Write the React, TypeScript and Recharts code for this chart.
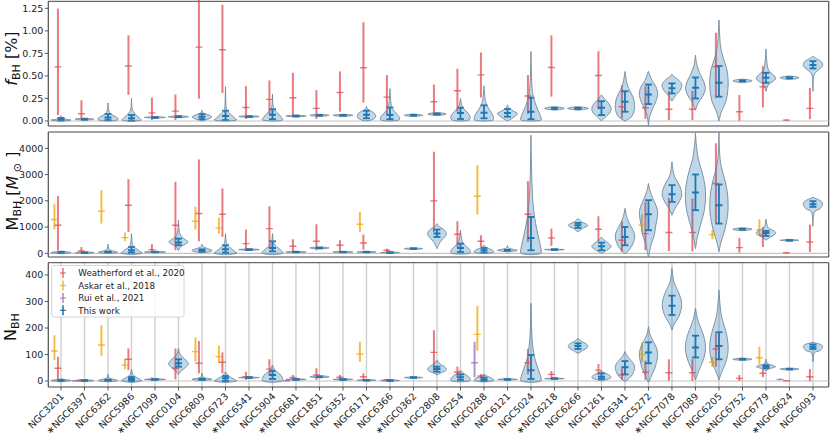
import React from "react";
import {
  ComposedChart,
  Scatter,
  ErrorBar,
  XAxis,
  YAxis,
  CartesianGrid,
  ReferenceLine,
  ReferenceArea,
} from "recharts";

type Est = [number, number, number] | null;
type Profile = [number, number][];
type Named = [string, number, number, number];

const CLUSTERS = [
  "NGC3201", "∗NGC6397", "NGC6362", "NGC5986", "∗NGC7099", "NGC0104", "NGC6809",
  "NGC6723", "∗NGC6541", "NGC5904", "∗NGC6681", "NGC1851", "NGC6352", "NGC6171",
  "NGC6366", "∗NGC0362", "NGC2808", "NGC6254", "NGC0288", "NGC6121", "NGC5024",
  "∗NGC6218", "NGC6266", "NGC1261", "NGC6341", "NGC5272", "∗NGC7078", "NGC7089",
  "NGC6205", "∗NGC6752", "NGC6779", "∗NGC6624", "NGC6093",
];

// violin outlines: [value, half width in category units], bottom to top
const F_VIOLINS: Profile[] = [
  [[0, 0], [0.005, 0.3], [0.012, 0.42], [0.02, 0.2], [0.04, 0.02], [0.06, 0]],
  [[0.01, 0], [0.015, 0.3], [0.02, 0.4], [0.025, 0.3], [0.03, 0]],
  [[0, 0.1], [0.01, 0.38], [0.03, 0.42], [0.05, 0.3], [0.08, 0.12], [0.12, 0.03], [0.2, 0]],
  [[0, 0.2], [0.01, 0.4], [0.03, 0.35], [0.06, 0.22], [0.1, 0.08], [0.15, 0.02], [0.25, 0]],
  [[0.03, 0], [0.036, 0.3], [0.04, 0.45], [0.044, 0.3], [0.05, 0]],
  [[0.035, 0], [0.042, 0.3], [0.047, 0.43], [0.052, 0.3], [0.06, 0]],
  [[0, 0], [0.02, 0.25], [0.045, 0.42], [0.07, 0.25], [0.09, 0.05], [0.12, 0]],
  [[0, 0.15], [0.01, 0.47], [0.03, 0.4], [0.06, 0.28], [0.1, 0.12], [0.15, 0.03], [0.38, 0]],
  [[0.04, 0], [0.045, 0.3], [0.05, 0.43], [0.055, 0.3], [0.06, 0]],
  [[0, 0.1], [0.01, 0.42], [0.04, 0.38], [0.08, 0.25], [0.12, 0.1], [0.18, 0.02], [0.3, 0]],
  [[0.045, 0], [0.05, 0.3], [0.055, 0.43], [0.06, 0.3], [0.065, 0]],
  [[0.05, 0], [0.057, 0.3], [0.063, 0.41], [0.069, 0.3], [0.075, 0]],
  [[0.05, 0], [0.057, 0.3], [0.063, 0.42], [0.069, 0.3], [0.075, 0]],
  [[0, 0], [0.01, 0.2], [0.04, 0.38], [0.08, 0.35], [0.11, 0.2], [0.13, 0.05], [0.16, 0]],
  [[0, 0.1], [0.01, 0.38], [0.04, 0.4], [0.08, 0.28], [0.13, 0.12], [0.2, 0.04], [0.36, 0]],
  [[0.05, 0], [0.057, 0.3], [0.063, 0.39], [0.069, 0.3], [0.078, 0]],
  [[0.06, 0], [0.07, 0.3], [0.077, 0.39], [0.085, 0.3], [0.095, 0]],
  [[0, 0.05], [0.01, 0.35], [0.04, 0.41], [0.08, 0.35], [0.12, 0.2], [0.17, 0.06], [0.25, 0]],
  [[0, 0.1], [0.01, 0.38], [0.05, 0.4], [0.1, 0.3], [0.16, 0.15], [0.24, 0.05], [0.39, 0]],
  [[0, 0], [0.03, 0.2], [0.08, 0.42], [0.11, 0.25], [0.14, 0.08], [0.18, 0]],
  [[0, 0.1], [0.01, 0.42], [0.06, 0.4], [0.12, 0.3], [0.2, 0.18], [0.3, 0.08], [0.45, 0.03], [0.77, 0]],
  [[0.12, 0], [0.13, 0.3], [0.14, 0.42], [0.15, 0.3], [0.16, 0]],
  [[0.12, 0], [0.13, 0.3], [0.14, 0.44], [0.15, 0.3], [0.16, 0]],
  [[0, 0], [0.04, 0.15], [0.09, 0.35], [0.14, 0.41], [0.19, 0.32], [0.24, 0.15], [0.29, 0]],
  [[0, 0], [0.04, 0.25], [0.1, 0.38], [0.18, 0.41], [0.26, 0.35], [0.34, 0.2], [0.42, 0.08], [0.55, 0]],
  [[-0.05, 0], [0.05, 0.05], [0.15, 0.2], [0.22, 0.32], [0.3, 0.39], [0.38, 0.32], [0.45, 0.15], [0.55, 0]],
  [[0.22, 0], [0.28, 0.15], [0.34, 0.35], [0.4, 0.42], [0.45, 0.3], [0.5, 0.05], [0.52, 0]],
  [[0.12, 0], [0.2, 0.12], [0.28, 0.32], [0.36, 0.42], [0.44, 0.35], [0.52, 0.2], [0.62, 0.06], [0.73, 0]],
  [[0, 0], [0.1, 0.1], [0.22, 0.3], [0.35, 0.38], [0.46, 0.39], [0.58, 0.33], [0.7, 0.18], [0.85, 0.06], [1.12, 0]],
  [[0.425, 0], [0.435, 0.3], [0.446, 0.41], [0.455, 0.3], [0.465, 0]],
  [[0.33, 0], [0.4, 0.1], [0.44, 0.3], [0.47, 0.41], [0.51, 0.32], [0.56, 0.12], [0.65, 0.04], [0.8, 0]],
  [[0.46, 0], [0.47, 0.3], [0.48, 0.4], [0.49, 0.3], [0.5, 0]],
  [[0.33, 0], [0.5, 0.03], [0.56, 0.2], [0.6, 0.38], [0.627, 0.41], [0.66, 0.35], [0.7, 0.1], [0.72, 0]],
];

const F_THIS_WORK: Est[] = [
  [0.005, 0.02, 0.035], [0.015, 0.02, 0.025], [0.01, 0.04, 0.077], [0.003, 0.03, 0.066],
  [0.035, 0.04, 0.045], [0.043, 0.048, 0.053], [0.02, 0.048, 0.077], [0.01, 0.055, 0.114],
  [0.044, 0.048, 0.052], [0.02, 0.07, 0.13], [0.05, 0.055, 0.06], [0.058, 0.063, 0.068],
  [0.058, 0.063, 0.068], [0.03, 0.07, 0.114], [0.02, 0.066, 0.15], [0.058, 0.063, 0.068],
  [0.07, 0.077, 0.084], [0.022, 0.088, 0.147], [0.03, 0.092, 0.174], [0.048, 0.09, 0.133],
  [0.02, 0.103, 0.258], [0.135, 0.14, 0.145], [0.135, 0.14, 0.145], [0.066, 0.147, 0.22],
  [0.103, 0.213, 0.33], [0.188, 0.295, 0.405], [0.306, 0.362, 0.417], [0.25, 0.369, 0.483],
  [0.27, 0.424, 0.61], [0.441, 0.446, 0.451], [0.424, 0.479, 0.535], [0.475, 0.48, 0.485],
  [0.583, 0.62, 0.664],
];

const F_WEATHERFORD: Est[] = [
  [0.066, 0.6, 1.247], [0.03, 0.08, 0.23], null, [0.29, 0.61, 0.95],
  [0.01, 0.09, 0.26], [0.01, 0.11, 0.295], [0.247, 0.82, 1.45], [0.31, 0.79, 1.29],
  [0.022, 0.15, 0.387], [0.077, 0.24, 0.45], [0.066, 0.258, 0.534], [0.022, 0.14, 0.343],
  [0.103, 0.317, 0.55], [0.203, 0.59, 1.095], [0.066, 0.265, 0.51], null,
  [0.066, 0.213, 0.405], [0.103, 0.335, 0.58], [0.26, 0.512, 0.76], null,
  [0.077, 0.277, 0.51], [0.27, 0.594, 0.95], null, [0.13, 0.505, 0.774],
  [0.03, 0.158, 0.398], [0.022, 0.147, 0.387], [0.01, 0.13, 0.335], [0.01, 0.13, 0.335],
  [0.26, 0.6, 0.98], [0.003, 0.103, 0.288], [0.15, 0.38, 0.608], [0, 0.01, 0.02],
  [0.02, 0.14, 0.368],
];

const M_VIOLINS: Profile[] = [
  [[-20, 0], [10, 0.3], [30, 0.42], [50, 0.3], [80, 0]],
  [[-10, 0], [10, 0.3], [25, 0.4], [40, 0.3], [60, 0]],
  [[0, 0], [20, 0.35], [45, 0.4], [80, 0.25], [150, 0.05], [350, 0]],
  [[-50, 0.05], [0, 0.44], [60, 0.38], [150, 0.25], [250, 0.1], [400, 0.03], [750, 0]],
  [[25, 0], [40, 0.3], [50, 0.45], [60, 0.3], [75, 0]],
  [[100, 0], [250, 0.1], [350, 0.3], [430, 0.41], [520, 0.3], [650, 0.12], [850, 0.03], [1260, 0]],
  [[20, 0], [60, 0.3], [110, 0.43], [160, 0.3], [250, 0.05], [350, 0]],
  [[-50, 0.1], [0, 0.48], [80, 0.38], [180, 0.25], [300, 0.1], [450, 0.03], [750, 0]],
  [[110, 0], [125, 0.3], [140, 0.44], [155, 0.3], [170, 0]],
  [[-50, 0.1], [0, 0.44], [100, 0.38], [200, 0.25], [320, 0.1], [480, 0.03], [750, 0]],
  [[30, 0], [40, 0.3], [50, 0.43], [60, 0.3], [70, 0]],
  [[170, 0], [185, 0.3], [205, 0.41], [225, 0.3], [240, 0]],
  [[30, 0], [40, 0.3], [50, 0.42], [60, 0.3], [70, 0]],
  [[30, 0], [40, 0.3], [50, 0.4], [60, 0.3], [70, 0]],
  [[10, 0], [20, 0.3], [27, 0.4], [35, 0.3], [45, 0]],
  [[150, 0], [165, 0.3], [178, 0.39], [190, 0.3], [205, 0]],
  [[178, 0], [450, 0.15], [620, 0.33], [760, 0.4], [900, 0.3], [1000, 0.12], [1130, 0]],
  [[-30, 0.1], [0, 0.38], [100, 0.41], [200, 0.32], [330, 0.18], [500, 0.06], [880, 0]],
  [[0, 0.1], [30, 0.38], [80, 0.41], [150, 0.3], [220, 0.1], [310, 0]],
  [[50, 0], [90, 0.3], [115, 0.42], [150, 0.25], [200, 0.05], [300, 0]],
  [[-50, 0.1], [0, 0.42], [200, 0.42], [500, 0.35], [900, 0.25], [1400, 0.15], [2000, 0.08], [3000, 0.03], [4500, 0]],
  [[120, 0], [130, 0.3], [140, 0.42], [150, 0.3], [160, 0]],
  [[815, 0], [950, 0.2], [1030, 0.38], [1070, 0.41], [1120, 0.35], [1200, 0.15], [1324, 0]],
  [[0, 0], [100, 0.2], [200, 0.36], [270, 0.41], [380, 0.3], [500, 0.12], [624, 0]],
  [[-20, 0], [100, 0.15], [300, 0.3], [500, 0.39], [700, 0.41], [900, 0.33], [1150, 0.18], [1400, 0.07], [1710, 0]],
  [[-140, 0], [0, 0.04], [300, 0.1], [700, 0.25], [1000, 0.3], [1300, 0.36], [1550, 0.39], [1800, 0.33], [2100, 0.18], [2400, 0.06], [2660, 0]],
  [[1450, 0], [1700, 0.12], [1950, 0.3], [2200, 0.41], [2450, 0.38], [2700, 0.25], [3000, 0.08], [3490, 0]],
  [[178, 0], [600, 0.08], [1100, 0.22], [1600, 0.37], [2100, 0.43], [2600, 0.4], [3100, 0.28], [3600, 0.12], [4100, 0.04], [4600, 0]],
  [[50, 0], [400, 0.08], [900, 0.25], [1400, 0.36], [1800, 0.39], [2300, 0.36], [2800, 0.25], [3300, 0.1], [3800, 0.03], [4600, 0]],
  [[860, 0], [890, 0.3], [917, 0.41], [945, 0.3], [975, 0]],
  [[500, 0], [600, 0.15], [700, 0.35], [780, 0.41], [860, 0.33], [950, 0.12], [1100, 0.04], [1300, 0]],
  [[470, 0], [485, 0.3], [497, 0.4], [510, 0.3], [525, 0]],
  [[1030, 0], [1550, 0.05], [1700, 0.3], [1870, 0.41], [2000, 0.32], [2134, 0]],
];

const M_THIS_WORK: Est[] = [
  [20, 40, 60], [10, 20, 30], [35, 50, 65], [30, 120, 240], [40, 50, 60], [306, 407, 560],
  [50, 115, 150], [27, 153, 306], [125, 140, 155], [76, 204, 458], [40, 50, 60], [190, 204, 218],
  [40, 50, 60], [40, 50, 60], [17, 27, 37], [165, 178, 191], [624, 752, 904], [50, 204, 369],
  [27, 115, 204], [100, 115, 130], [115, 586, 1387], [125, 140, 155], [968, 1070, 1158],
  [115, 267, 407], [306, 624, 1006], [879, 1490, 2025], [1961, 2254, 2598], [1643, 2318, 3005],
  [1133, 1834, 2623], [900, 917, 934], [663, 777, 853], [482, 497, 512], [1770, 1872, 1986],
];

const M_WEATHERFORD: Est[] = [
  [115, 1070, 2190], [20, 90, 240], null, [815, 1834, 2827], [27, 140, 344], [115, 1070, 2725],
  [458, 1515, 3578], [624, 1490, 2470], [115, 369, 904], [178, 942, 1795], [76, 267, 535],
  [115, 458, 1108], [76, 306, 497], [140, 395, 713], [27, 115, 178], null, [815, 1999, 3871],
  [242, 726, 1222], [242, 458, 688], null, [433, 1490, 2750], [280, 586, 942], null,
  [458, 917, 1413], [50, 497, 1222], [115, 751, 1961], [89, 790, 2114], [76, 790, 2088],
  [1150, 2660, 4190], [27, 216, 586], [242, 688, 1006], [0, 20, 40], [50, 433, 1095],
];

const M_ASKAR: Named[] = [
  ["NGC3201", 917, 1286, 1872], ["NGC6362", 1133, 1604, 2407], ["NGC5986", 471, 599, 790],
  ["NGC6809", 904, 1222, 1770], ["NGC6723", 751, 968, 1363], ["NGC6171", 815, 1108, 1579],
  ["NGC0288", 1477, 2177, 3362], ["NGC5272", 790, 1070, 1490], ["NGC6205", 535, 713, 879],
  ["NGC6779", 688, 904, 1299],
];

const N_VIOLINS: Profile[] = [
  [[-3, 0], [0, 0.3], [2, 0.42], [4, 0.3], [8, 0]],
  [[-2, 0], [0, 0.3], [1.5, 0.4], [3, 0.3], [5, 0]],
  [[-3, 0], [0, 0.35], [3, 0.4], [6, 0.25], [12, 0.05], [25, 0]],
  [[-5, 0.05], [0, 0.42], [5, 0.38], [12, 0.25], [20, 0.1], [30, 0.03], [45, 0]],
  [[3, 0], [5, 0.3], [6, 0.45], [7, 0.3], [9, 0]],
  [[25, 0], [40, 0.15], [55, 0.35], [65, 0.42], [78, 0.33], [92, 0.15], [105, 0.05], [123, 0]],
  [[2, 0], [4, 0.3], [6, 0.43], [9, 0.3], [14, 0.06], [30, 0]],
  [[-5, 0.1], [0, 0.47], [6, 0.38], [13, 0.25], [22, 0.1], [35, 0]],
  [[10, 0], [12, 0.3], [13, 0.44], [14, 0.3], [16, 0]],
  [[-5, 0.1], [0, 0.42], [10, 0.42], [20, 0.38], [30, 0.25], [42, 0.1], [60, 0]],
  [[3, 0], [5, 0.3], [6, 0.43], [7, 0.3], [9, 0]],
  [[12, 0], [14, 0.3], [16, 0.41], [18, 0.3], [20, 0]],
  [[3, 0], [5, 0.3], [6, 0.42], [7, 0.3], [9, 0]],
  [[1, 0], [2, 0.3], [3, 0.4], [4, 0.3], [6, 0]],
  [[0, 0], [1, 0.3], [2, 0.4], [3, 0.3], [5, 0]],
  [[10, 0], [12, 0.3], [13, 0.39], [14, 0.3], [16, 0]],
  [[23, 0], [30, 0.15], [38, 0.35], [45, 0.4], [55, 0.3], [65, 0.12], [79, 0]],
  [[-3, 0.1], [0, 0.38], [8, 0.41], [18, 0.32], [28, 0.15], [41, 0]],
  [[-3, 0.1], [0, 0.38], [5, 0.41], [12, 0.3], [20, 0.1], [26, 0]],
  [[3, 0], [5, 0.3], [6, 0.42], [7, 0.3], [10, 0]],
  [[-5, 0.1], [0, 0.42], [15, 0.42], [35, 0.35], [60, 0.25], [90, 0.15], [130, 0.08], [190, 0.03], [293, 0]],
  [[7, 0], [8, 0.3], [9, 0.42], [10, 0.3], [11, 0]],
  [[104, 0], [115, 0.2], [125, 0.38], [132, 0.41], [140, 0.35], [150, 0.15], [161, 0]],
  [[0, 0], [5, 0.2], [10, 0.36], [16, 0.41], [24, 0.3], [31, 0.12], [38, 0]],
  [[-2, 0], [10, 0.18], [25, 0.32], [40, 0.39], [55, 0.41], [70, 0.33], [85, 0.18], [98, 0.07], [111, 0]],
  [[-5, 0], [5, 0.06], [25, 0.15], [50, 0.28], [75, 0.35], [100, 0.39], [125, 0.34], [150, 0.2], [175, 0.07], [205, 0]],
  [[192, 0], [215, 0.1], [245, 0.3], [280, 0.41], [310, 0.38], [340, 0.25], [375, 0.08], [425, 0]],
  [[4, 0], [25, 0.08], [55, 0.22], [90, 0.37], [125, 0.43], [160, 0.38], [195, 0.25], [230, 0.1], [274, 0]],
  [[4, 0], [30, 0.1], [65, 0.27], [100, 0.37], [130, 0.39], [165, 0.35], [200, 0.25], [240, 0.12], [285, 0.05], [343, 0]],
  [[78, 0], [80, 0.3], [82, 0.41], [84, 0.3], [87, 0]],
  [[38, 0], [45, 0.1], [50, 0.3], [54, 0.41], [58, 0.33], [63, 0.12], [70, 0.04], [82, 0]],
  [[41, 0], [43, 0.3], [45, 0.4], [47, 0.3], [49, 0]],
  [[73, 0], [105, 0.05], [115, 0.3], [129, 0.41], [138, 0.32], [146, 0]],
];

const N_THIS_WORK: Est[] = [
  [0, 2, 4], [0, 1.5, 3], [1, 3, 5], [0, 8, 15], [5, 6, 7], [54, 67, 82], [4, 6, 9], [0, 10, 19],
  [12, 13, 14], [8, 23, 38], [5, 6, 7], [15, 16, 17], [5, 6, 7], [2, 3, 4], [1, 2, 3], [12, 13, 14],
  [35, 45, 54], [4, 14, 25], [0, 6, 13], [5, 6, 7], [8, 41, 98], [8, 9, 10], [121, 132, 142],
  [8, 16, 29], [25, 52, 75], [67, 108, 146], [249, 284, 322], [89, 126, 171], [82, 132, 184],
  [81, 82, 83], [48, 54, 60], [44, 45, 46], [121, 129, 138],
];

const N_WEATHERFORD: Est[] = [
  [4, 48, 92], [1, 3, 6], null, [41, 82, 123], [0, 6, 14], [6, 48, 123], [29, 67, 151],
  [29, 71, 108], [4, 16, 35], [20, 45, 82], [4, 13, 23], [4, 23, 48], [6, 14, 23], [4, 16, 29],
  [2, 5, 8], null, [35, 108, 192], [13, 33, 54], [10, 19, 26], null, [25, 69, 121],
  [13, 25, 38], null, [23, 41, 64], [4, 23, 48], [4, 33, 77], [1, 31, 82], [0, 31, 82],
  [54, 121, 180], [0, 10, 23], [14, 29, 44], [0, 1, 2], [0, 16, 45],
];

const N_ASKAR: Named[] = [
  ["NGC3201", 79, 113, 173], ["NGC6362", 95, 136, 211], ["NGC5986", 45, 60, 83],
  ["NGC6809", 73, 111, 165], ["NGC6723", 67, 92, 133], ["NGC6171", 73, 102, 148],
  ["NGC0288", 114, 176, 283], ["NGC5272", 71, 101, 146], ["NGC6205", 54, 71, 92],
  ["NGC6779", 63, 88, 129],
];

const N_RUI: Named[] = [
  ["∗NGC6397", 0, 1, 3], ["∗NGC6681", 0, 1, 3], ["NGC0288", 14, 69, 148], ["∗NGC6624", 3, 6, 9],
];

const F_TICKS = [0, 0.25, 0.5, 0.75, 1.0, 1.25];
const M_TICKS = [0, 1000, 2000, 3000, 4000];
const N_TICKS = [0, 100, 200, 300, 400];

const SOURCES = [
  { name: "Weatherford et al., 2020", color: "#e0474c", offset: -0.13 },
  { name: "Askar et al., 2018", color: "#eea500", offset: -0.28 },
  { name: "Rui et al., 2021", color: "#9467bd", offset: -0.4 },
  { name: "This work", color: "#1f77b4", offset: 0 },
];

const W = 831;
const FONT = "DejaVu Sans";
const X_DOMAIN: [number, number] = [-0.54, 32.67];
const X_TICKS = CLUSTERS.map((_, i) => i);

const fromNamed = (list: Named[]): Est[] =>
  CLUSTERS.map((c) => {
    const hit = list.find((r) => r[0] === c);
    return hit ? [hit[1], hit[2], hit[3]] : null;
  });

const toPoints = (values: Est[], offset: number) =>
  values.flatMap((e, i) =>
    e ? [{ x: i + offset, y: e[1], err: [e[1] - e[0], e[2] - e[1]] }] : []
  );

const outline = (profiles: Profile[]) =>
  profiles.flatMap((p, i) => [
    ...p.map(([v, w]) => ({ x: i - w, y: v })),
    ...[...p].reverse().map(([v, w]) => ({ x: i + w, y: v })),
  ]);

const side = (pts: { x: number; y: number }[]) => {
  let d = "";
  for (let i = 0; i < pts.length - 1; i++) {
    const p0 = pts[Math.max(i - 1, 0)];
    const p1 = pts[i];
    const p2 = pts[i + 1];
    const p3 = pts[Math.min(i + 2, pts.length - 1)];
    const c1x = p1.x + (p2.x - p0.x) / 6;
    const c1y = p1.y + (p2.y - p0.y) / 6;
    const c2x = p2.x - (p3.x - p1.x) / 6;
    const c2y = p2.y - (p3.y - p1.y) / 6;
    d += ` C${c1x},${c1y} ${c2x},${c2y} ${p2.x},${p2.y}`;
  }
  return d;
};

const violinLine = (profiles: Profile[]) => (props: any) => {
  const pts = props.points || [];
  let k = 0;
  return (
    <g>
      {profiles.map((p, i) => {
        const n = p.length;
        const left = pts.slice(k, k + n);
        const right = pts.slice(k + n, k + 2 * n);
        k += 2 * n;
        if (left.length < n || right.length < n) return null;
        const d =
          `M${left[0].x},${left[0].y}` + side(left) +
          ` L${right[0].x},${right[0].y}` + side(right) + "Z";
        return (
          <path key={i} d={d} fill="#1f77b4" fillOpacity={0.29} stroke="#76889a"
            strokeOpacity={0.9} strokeWidth={1} />
        );
      })}
    </g>
  );
};

const noShape = () => <g />;

const tickMark = (color: string, half: number, sw: number, op: number) => (props: any) => (
  <line x1={props.cx - half} x2={props.cx + half} y1={props.cy} y2={props.cy}
    stroke={color} strokeWidth={sw} strokeOpacity={op} />
);

const NameTick = (props: any) => {
  const { x, y, payload } = props;
  const ax = x + 3.5;
  const ay = y + 4.5;
  return (
    <text x={ax} y={ay} textAnchor="end" fontSize={9.6} fontFamily={FONT} fill="#222"
      transform={`rotate(-45 ${ax} ${ay})`}>
      {CLUSTERS[payload.value]}
    </text>
  );
};

type Series = { values: Est[]; source: number };

type PanelProps = {
  top: number;
  height: number;
  marginTop: number;
  xAxisHeight: number;
  domain: [number, number];
  ticks: number[];
  fmt: (v: number) => string;
  violins: Profile[];
  series: Series[];
  names: boolean;
};

const Panel = ({ top, height, marginTop, xAxisHeight, domain, ticks, fmt, violins, series, names }: PanelProps) => (
  <div style={{ position: "absolute", left: 0, top, width: W, height }}>
    <ComposedChart width={W} height={height}
      margin={{ top: marginTop, right: 2.3, bottom: 0, left: 0.3 }}>
      <CartesianGrid vertical horizontal={false} stroke="#cfcfcf" strokeWidth={1.4} />
      <XAxis type="number" dataKey="x" domain={X_DOMAIN} ticks={X_TICKS} interval={0}
        allowDataOverflow height={xAxisHeight} axisLine={false} tickSize={3.5}
        tickLine={{ stroke: "#333", strokeWidth: 0.8 }}
        tick={names ? <NameTick /> : false} />
      <YAxis type="number" dataKey="y" domain={domain} ticks={ticks} interval={0}
        allowDataOverflow width={48} axisLine={false} tickSize={3.5} tickMargin={1.5}
        tickLine={{ stroke: "#333", strokeWidth: 0.8 }}
        tick={{ fontSize: 9.5, fill: "#222", fontFamily: FONT }} tickFormatter={fmt} />
      <ReferenceLine y={0} stroke="#c4c4c4" strokeWidth={1.2} />
      <Scatter data={outline(violins)} line={violinLine(violins)} shape={noShape}
        isAnimationActive={false} legendType="none" />
      {series.map((s, k) => {
        const src = SOURCES[s.source];
        const blue = s.source === 3;
        const op = blue ? 1 : 0.72;
        return (
          <Scatter key={k} data={toPoints(s.values, src.offset)}
            shape={tickMark(src.color, 3.5, blue ? 2 : 1.4, op)}
            isAnimationActive={false} legendType="none">
            <ErrorBar dataKey="err" direction="y" width={blue ? 3.5 : 0}
              stroke={src.color} strokeWidth={blue ? 1.8 : 2} strokeOpacity={op}
              isAnimationActive={false} />
          </Scatter>
        );
      })}
      <ReferenceArea x1={X_DOMAIN[0]} x2={X_DOMAIN[1]} y1={domain[0]} y2={domain[1]}
        fill="none" stroke="#444" strokeWidth={1} />
    </ComposedChart>
  </div>
);

const LEGEND_ROWS = [273, 285.5, 298, 310.3];

const Overlay = () => (
  <svg width={W} height={438} style={{ position: "absolute", left: 0, top: 0, pointerEvents: "none" }}>
    <text x={17} y={58.5} transform="rotate(-90 17 58.5)" textAnchor="middle" fontSize={16}
      fontFamily={FONT} fill="#111">
      <tspan fontStyle="italic">f</tspan>
      <tspan fontSize={11} dy={3}>BH</tspan>
      <tspan dy={-3}>{"\u00a0[%]"}</tspan>
    </text>
    <text x={18} y={191} transform="rotate(-90 18 191)" textAnchor="middle" fontSize={16}
      fontFamily={FONT} fill="#111">
      <tspan>M</tspan>
      <tspan fontSize={11} dy={3}>BH</tspan>
      <tspan dy={-3}>{"\u00a0["}</tspan>
      <tspan fontStyle="italic">M</tspan>
      <tspan fontSize={11} dy={3}>{"\u00a0⊙"}</tspan>
      <tspan dy={-3}>{"\u00a0]"}</tspan>
    </text>
    <text x={16} y={327} transform="rotate(-90 16 327)" textAnchor="middle" fontSize={16}
      fontFamily={FONT} fill="#111">
      <tspan>N</tspan>
      <tspan fontSize={11} dy={3}>BH</tspan>
    </text>
    <rect x={51.7} y={265.5} width={132.3} height={51.5} rx={2.5} fill="#fff" fillOpacity={0.85}
      stroke="#d0d0d0" strokeWidth={0.9} />
    {SOURCES.map((s, i) => (
      <g key={s.name}>
        <line x1={63} x2={63} y1={LEGEND_ROWS[i] - 5} y2={LEGEND_ROWS[i] + 5} stroke={s.color}
          strokeWidth={1.6} strokeOpacity={i === 3 ? 1 : 0.72} />
        <line x1={60} x2={66} y1={LEGEND_ROWS[i]} y2={LEGEND_ROWS[i]} stroke={s.color}
          strokeWidth={1.2} strokeOpacity={i === 3 ? 1 : 0.72} />
        <text x={78.3} y={LEGEND_ROWS[i] + 3.2} fontSize={8.7} fontFamily={FONT} fill="#222">
          {s.name}
        </text>
      </g>
    ))}
  </svg>
);

export default function App() {
  return (
    <div style={{ position: "absolute", left: 0, top: 0, width: W, height: 438, background: "#fff" }}>
      <Panel top={0} height={131} marginTop={1.3} xAxisHeight={5} domain={[-0.0555, 1.328]}
        ticks={F_TICKS} fmt={(v) => v.toFixed(2)} violins={F_VIOLINS} names={false}
        series={[{ values: F_WEATHERFORD, source: 0 }, { values: F_THIS_WORK, source: 3 }]} />
      <Panel top={131} height={131} marginTop={1} xAxisHeight={5} domain={[-141, 4623]}
        ticks={M_TICKS} fmt={(v) => String(v)} violins={M_VIOLINS} names={false}
        series={[
          { values: M_WEATHERFORD, source: 0 },
          { values: fromNamed(M_ASKAR), source: 1 },
          { values: M_THIS_WORK, source: 3 },
        ]} />
      <Panel top={262} height={176} marginTop={0.7} xAxisHeight={51} domain={[-22.6, 446.4]}
        ticks={N_TICKS} fmt={(v) => String(v)} violins={N_VIOLINS} names
        series={[
          { values: N_WEATHERFORD, source: 0 },
          { values: fromNamed(N_ASKAR), source: 1 },
          { values: fromNamed(N_RUI), source: 2 },
          { values: N_THIS_WORK, source: 3 },
        ]} />
      <Overlay />
    </div>
  );
}
